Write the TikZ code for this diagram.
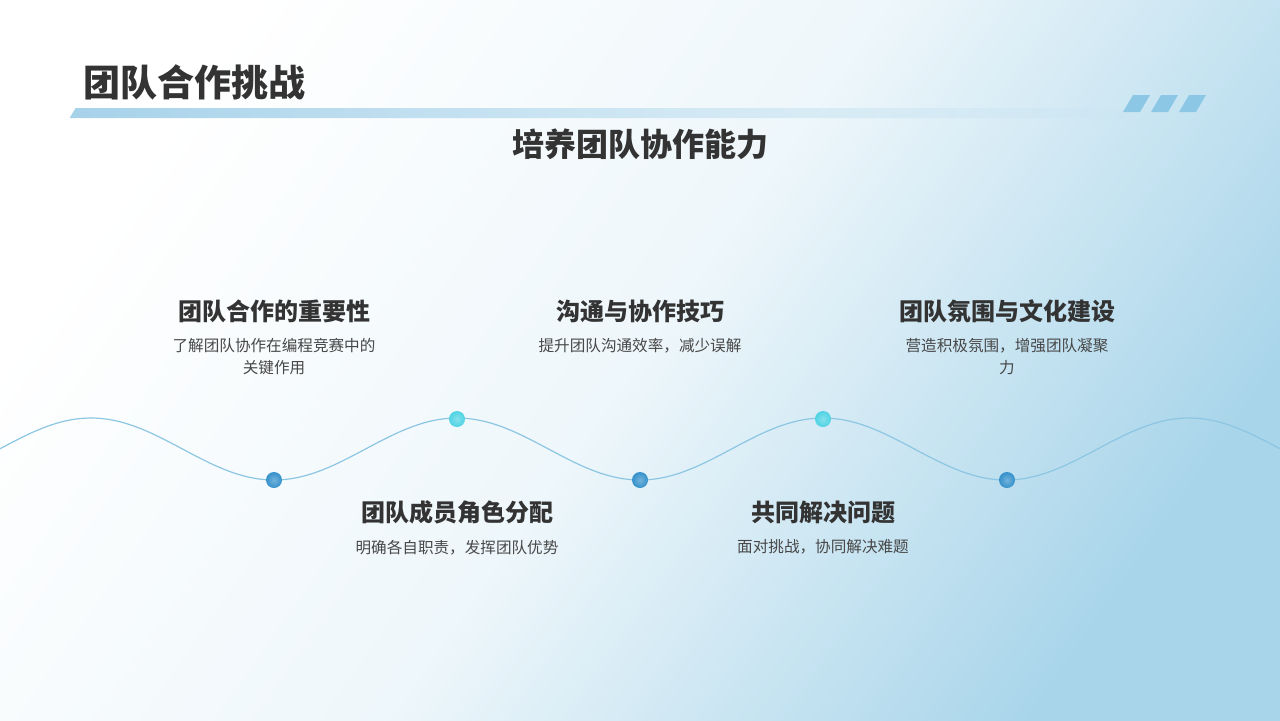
\documentclass[tikz,border=0pt]{standalone}
\usepackage{fontspec}
\setmainfont{Noto Sans CJK SC}
\usepackage{xcolor}
\usetikzlibrary{positioning, fadings}
\definecolor{bgblue}{HTML}{A9D5EA}
\definecolor{barblue}{HTML}{A6D2EA}
\definecolor{slash}{HTML}{8CC8E6}
\definecolor{wave}{HTML}{8CC6E3}
\definecolor{dotdark}{HTML}{3591CB}
\definecolor{dotcyan}{HTML}{4FD3E3}
\definecolor{txt}{HTML}{333333}
\tikzset{
  heading/.style={font=\fontsize{12}{14}\selectfont\bfseries, text=txt},
  body/.style={font=\fontsize{7.8}{11}\selectfont, text=txt!90, align=center},
  dot/.style={circle, minimum size=8pt, inner sep=0pt}
}
\begin{document}
\begin{tikzpicture}[x=0.5pt,y=-0.5pt]
\useasboundingbox (0,0) rectangle (1280,720);
% --- background ---
\shade[left color=white, right color=bgblue, middle color=white!80!bgblue, shading angle=55] (0,0) rectangle (1280,720);

% --- title bar ---
\node[anchor=west, font=\fontsize{18.5}{21}\selectfont\bfseries, text=txt] (title) at (76,82) {团队合作挑战};
\fill[barblue, path fading=east] (76,108) -- (1135,108) -- (1130,118) -- (70,118) -- cycle;
\foreach \i in {0,1,2}
  \fill[slash] (1133+\i*28,95) -- (1150+\i*28,95) -- (1140+\i*28,112) -- (1123+\i*28,112) -- cycle;
\node[font=\fontsize{16}{18}\selectfont\bfseries, text=txt] (sub) at (640,144) {培养团队协作能力};

% --- wave ---
\draw[wave, line width=0.6pt] plot[domain=0:1280, samples=200, smooth] (\x,{449-31*cos(0.98361*(\x-457))});
\foreach \n/\x in {a/274, c/640, e/1007}
  \node[dot, inner color=dotdark!70!white, outer color=dotdark] (d\n) at (\x,480) {};
\foreach \n/\x in {b/457, d/823}
  \node[dot, inner color=dotcyan!70!white, outer color=dotcyan] (d\n) at (\x,419) {};

% --- upper items ---
\node[heading] (h1) at (274,311) {团队合作的重要性};
\node[body, text width=120pt, below=1pt of h1] (t1) {了解团队协作在编程竞赛中的\\关键作用};
\node[heading] (h2) at (640,311) {沟通与协作技巧};
\node[body, below=1pt of h2] (t2) {提升团队沟通效率，减少误解};
\node[heading] (h3) at (1007,311) {团队氛围与文化建设};
\node[body, below=1pt of h3] (t3) {营造积极氛围，增强团队凝聚\\力};

% --- lower items ---
\node[heading] (h4) at (457,512) {团队成员角色分配};
\node[body, below=1pt of h4] (t4) {明确各自职责，发挥团队优势};
\node[heading] (h5) at (823,512) {共同解决问题};
\node[body, below=1pt of h5] (t5) {面对挑战，协同解决难题};
\end{tikzpicture}
\end{document}
